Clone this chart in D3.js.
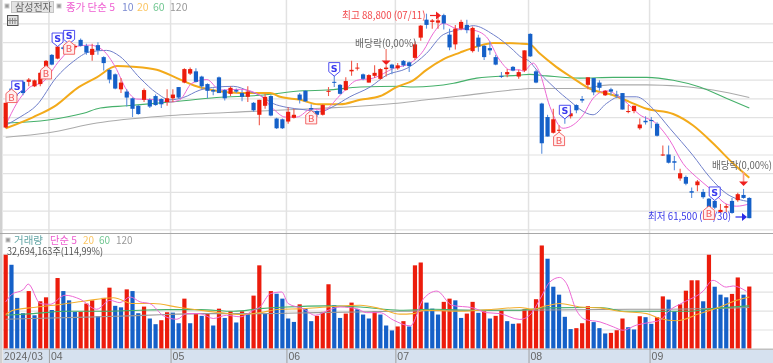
<!DOCTYPE html>
<html><head><meta charset="utf-8">
<script src="https://cdn.jsdelivr.net/npm/d3@7"></script>
<style>html,body{margin:0;padding:0;background:#fff;overflow:hidden}svg{display:block;font-family:"Noto Sans CJK KR","Noto Sans",sans-serif;filter:blur(.35px)}</style>
</head><body><svg id="c" width="773" height="363"></svg>
<script>
const opens=[73600,78800,79400,79700,79700,79100,79400,81700,83300,82800,84300,84300,84300,85300,84500,83300,84600,83000,81300,80700,78700,78400,77500,76500,77300,77300,77800,77400,77000,77500,79000,79600,80800,81100,80400,79400,78600,80300,78600,78100,78600,78200,77700,76900,75300,76500,77800,74800,74700,74400,74900,78000,78500,76200,75800,75300,78400,79700,79300,78600,81100,81500,80700,79600,80500,80100,81400,82000,81500,82500,82300,82900,85600,88000,87700,87600,88600,86000,84700,86800,87300,83800,85600,84500,84200,83000,80500,80700,81700,80400,81200,86100,81100,76800,75000,72900,73200,75100,75100,76600,77400,79300,80200,79600,77900,78700,78000,78200,75700,75800,73500,74500,74600,74100,69900,70000,69100,66800,67000,65100,65900,65000,64100,63800,62300,62900,63800,63900,64600,64200];
const closes=[76900,78400,78200,78200,80000,79900,80900,82500,82000,84400,84100,84900,84500,84500,83600,84100,83900,82200,80000,78800,79600,77600,76100,75400,78600,76400,76600,76700,77500,78000,77600,81400,81400,79700,79100,78500,78400,78200,77500,78900,78400,77700,78400,75900,77300,77700,75200,73500,73500,75700,75300,77300,77100,76000,75300,76600,78500,79600,78100,79800,81300,81600,80100,80600,80900,81400,81600,81500,81900,81900,81800,84700,87200,87300,87900,87900,87500,84300,86800,87700,86600,86900,84400,83000,83900,82000,80400,81000,81200,81000,83900,83100,79600,71500,72400,74700,73300,74900,75500,75900,77200,80300,78300,78900,78500,78400,77900,76000,75800,76500,74000,74300,74500,72500,70000,68900,68900,67500,66100,64900,66400,64300,63000,62900,62600,63100,62200,64700,64200,61500];
const highs=[76900,79000,79600,79900,80200,80000,81000,82600,83400,84500,84500,85200,84700,85500,84800,84800,85000,83100,81400,80800,80200,78700,77600,76600,78800,77500,78000,77500,78700,78700,79000,81500,81600,81500,80500,79500,78800,80400,78700,79100,78800,78600,79100,77000,77300,78100,77900,74900,74800,76300,76100,78200,78600,76700,75900,76700,79000,80800,79400,80300,82500,82200,80800,80700,81900,81500,81900,82100,82200,82600,82400,85100,87300,88800,88100,88800,88800,86800,87300,88000,88000,87100,86000,84600,85100,83300,81000,81400,81800,81300,83900,86200,81300,76900,75300,76100,73900,75700,75900,76700,77800,80300,80200,79900,78600,78900,78500,78200,76600,76500,74800,75100,75000,74300,71200,71200,69800,68100,67200,65600,66600,65400,64200,63900,63400,63400,64200,64900,65400,64300];
const lows=[73500,78200,77800,77900,79100,79000,79100,81500,81900,82700,83900,83900,84000,84400,83300,82500,83300,81200,79500,78700,78200,76400,75000,75300,77000,76200,76500,76200,76500,77000,77400,79500,80600,79600,78800,77500,77900,78200,77200,77800,78200,77100,77000,75700,73900,76100,75100,73400,73400,74100,74800,76800,77000,75500,75000,75200,77800,79000,78000,78500,80500,81200,79900,79600,80200,80000,80400,80700,81300,81700,81000,82600,85200,86800,86800,86800,86700,83900,84000,86600,86200,83600,83700,82600,83300,81900,80200,80300,81100,80100,81000,83000,79500,70100,72400,72800,72800,74100,74800,75500,76900,78700,77900,78500,77800,77900,77500,76000,75500,75500,73300,74000,73500,72400,69800,68800,67900,66500,65900,64200,65100,64100,62800,62700,62200,62300,62100,63700,64100,61500];
const volumes=[49.5,44.2,26.7,18.6,30.3,17.5,24.9,27.0,20.3,37.2,30.3,25.4,19.3,19.3,23.7,25.4,17.0,26.7,32.1,22.5,21.7,31.2,30.3,18.6,22.1,15.8,12.8,14.9,19.1,18.9,13.3,26.3,13.3,18.6,17.2,18.6,12.1,21.0,16.1,19.6,13.7,19.6,18.6,27.9,43.9,18.6,30.3,28.9,26.3,15.8,14.0,23.3,21.0,14.4,17.2,19.3,33.9,22.8,16.1,18.4,24.2,20.7,17.9,15.8,19.6,17.9,12.1,9.5,11.6,14.4,11.6,43.9,45.4,24.2,21.0,17.9,24.6,26.3,25.4,16.1,18.4,24.6,18.8,19.6,15.8,17.2,20.2,14.4,13.0,13.2,20.7,20.7,26.0,54.4,47.4,32.6,28.4,16.7,10.2,10.7,13.3,22.3,13.9,10.7,7.9,8.2,9.6,15.8,11.2,10.0,17.0,16.5,13.0,16.5,27.5,25.8,19.6,23.3,30.5,36.0,36.0,24.9,49.5,32.6,28.4,27.0,28.8,37.5,28.4,32.7];
const volumeSide="RBBBRBRRBRBBBRRRBRRBBRBBRBBRRBBRBRBRBRBRBRBRRBRBBBBRBBRRRBBRRBBBRBBBRRBRRBBBRRBBRRBRBRRBBRRRRRBBBBBRRRBBBRRRBBRBBRRBBRRRRBRBBBRRBR";
const ma5=[[0,73900],[1.9,76800],[4.2,79000],[6.5,79700],[9.4,82600],[12,84400],[14.6,84600],[16.9,83900],[19,81700],[21,78600],[22.7,77400],[26.2,77300],[28.5,77000],[30.2,77300],[32.3,79500],[34.9,80000],[37.2,78600],[40.7,78700],[44.1,77900],[46.4,76100],[48.5,75000],[50.5,75000],[53.1,76100],[55.1,75900],[58,77900],[60.9,79900],[63.8,80200],[67.3,81500],[70.2,82200],[72.5,83900],[74.2,86200],[75.9,87500],[78.2,86800],[81.1,86600],[83.4,85700],[85.7,82600],[87.5,81300],[89.2,81300],[89.8,81100],[91.5,82200],[92.6,81000],[94.4,76400],[96.7,73500],[100.2,75300],[101.9,77500],[104.2,78500],[107.1,77300],[110,75300],[112.9,74100],[115.2,71900],[117.5,68800],[119.8,67000],[122.1,65500],[125,63400],[126.8,63100],[129,63400]];
const ma10=[[0,73900],[2.5,75000],[5.4,76600],[8.8,80300],[11.7,82400],[14.6,83700],[17.5,83900],[19.8,83100],[23.3,80200],[26.2,78200],[28.5,77300],[30.8,77600],[33.7,78600],[36.6,79000],[39.5,79100],[42.4,78400],[44.1,77900],[46.4,76800],[48.7,76300],[51.6,76000],[54.5,75700],[56.8,76400],[59.7,77700],[63.2,79000],[66.1,80600],[69.6,81500],[73,83500],[75.9,86000],[79.4,86800],[81.1,87200],[84.6,86000],[88.1,83900],[89.2,83100],[90.9,82400],[92.1,81300],[94.4,79500],[97.3,77500],[101.9,75300],[104.2,76800],[106.5,77700],[109.4,77700],[112.3,76100],[115.2,73500],[119.2,69900],[122.1,67000],[125,64800],[129,63700]];
const ma20=[[0,73500],[4.8,75000],[8.8,76600],[12.3,78800],[15.8,80300],[19.3,81800],[22.1,81700],[26.2,81300],[29.7,80200],[33.1,79100],[36.6,78500],[40.7,78200],[44.1,78200],[45.9,78200],[47.6,77700],[51.1,77300],[54.2,76700],[58,76700],[61.5,77300],[65,77800],[67.8,79000],[70.7,79900],[73,81300],[75.9,82700],[78.8,83600],[81.7,84400],[84.6,84900],[89.2,84800],[90.9,84700],[92.6,83500],[95.5,81700],[98.4,80200],[101.3,78800],[105.4,77900],[108.3,77000],[111.2,76100],[115.8,75400],[119.2,73900],[122.7,71500],[126.2,68800],[129,66900]];
const ma60=[[0,74200],[7.4,74600],[13.5,75500],[16.4,76200],[21,76500],[28.6,77000],[36.6,77600],[44.1,77900],[51.6,78500],[55.7,78600],[61.5,79000],[68.4,79100],[70.7,79000],[77.7,79500],[81.7,80200],[89.2,80600],[90.9,80700],[93.8,80500],[99.6,80200],[105.4,80300],[111.2,80300],[115.8,79900],[120.4,79000],[125,77500],[129,76200]];
const ma120=[[0,72300],[7.4,72900],[15.8,74200],[28.6,75200],[44.1,75800],[67.3,76800],[73,77300],[78.8,77800],[89.2,78700],[90.9,78800],[99.6,78800],[104.8,79300],[111.2,79300],[117,79100],[122.7,78600],[129,77600]];
const vol5=[[0,24.6],[1,28.4],[3.1,31.2],[3.9,34],[6,23.7],[7.7,23.3],[10.3,28.1],[12.9,26],[15.8,20.7],[18.1,25.4],[19.8,24.2],[21.6,27.2],[23.3,24.6],[25,23.7],[27.4,17.2],[29.7,15.4],[31.4,18.4],[33.7,18.4],[36,15.8],[38.3,17.5],[40.7,16.7],[43,20.2],[44.1,21.9],[45.9,28.9],[47.9,29.8],[49,23.7],[51.6,21],[53.7,17.5],[56,20.2],[58,21.9],[60.9,21],[62.6,18.9],[64.9,18.9],[67.3,14.9],[70.2,11.9],[72.5,26.3],[74.8,30.3],[77.4,22.8],[81.1,21.4],[83.4,18.9],[85.7,18.4],[89.2,15.3],[90.9,17.5],[92.9,27.2],[94.4,35.1],[96.1,37.5],[97.3,34.2],[99,20.2],[100.5,15.3],[103.1,14],[105.4,11.4],[107.1,9.6],[109.4,12.3],[111.7,13.7],[113.5,14.9],[115.2,20.2],[117.5,24.2],[121,30.3],[122.7,36],[125,32.4],[126.2,33],[128.5,30.2]];
const vol20=[[0,17.9],[1.3,20.2],[4.8,21.6],[9.4,23.2],[13.5,24.9],[18.7,26.8],[22.1,23.7],[25.6,23.7],[30.2,21.6],[33.7,20.2],[37.2,18.9],[40.7,17.9],[44.1,18.9],[47.6,20.7],[51.6,21],[55.7,21.9],[61.5,22.8],[65,21],[68.4,18.1],[70.7,18.4],[72.5,20.2],[78.8,19.6],[84.6,20.7],[89.2,21.6],[91.5,20.7],[93.8,22.5],[96.1,23.7],[99.6,21.9],[103.1,21.4],[106.5,19.6],[111.2,18.4],[113.5,15.8],[116.4,14.6],[120.4,18.4],[123.9,21.9],[126.8,25.4],[129,27.2]];
const vol60=[[0,17.5],[4.8,18.4],[10.6,19.6],[16.4,19.6],[23.3,20.2],[27.9,20.5],[33.7,20.5],[39.5,19.6],[44.1,21],[48.7,21.9],[55.7,22.5],[61.5,21.9],[68.4,20.2],[74.2,20.7],[81.1,20.2],[89.2,20.2],[93.8,21.4],[103.1,21.6],[107.7,19.6],[113.5,19.6],[118.1,19.6],[122.7,21],[129,22.5]];
const vol120=[[0,15.4],[7.7,16.1],[16.4,16.7],[27.9,17.9],[33.7,18.4],[44.1,18.4],[53.8,18.9],[67.3,19.6],[78.8,20.2],[89.2,20.2],[108.3,20.7],[113.5,20.7],[129,21.6]];
const monthTicks=[7.5,28.6,48.7,67.6,90.7,111.7];
const monthLabels=["04","05","06","07","08","09"];
const sellSignals=[[2,78950],[9,85350],[11,85700],[57,81400],[97,75700],[123,64800]];
const buySignals=[[1,77800],[7,80950],[11,84250],[53,74950],[96,72050],[122,62200]];

const RED="#ec1c0c",BLUE="#1560c8";
const W=773,H=363;
const x=d3.scaleLinear([0,129],[5.7,749.3]);
const y=d3.scaleLinear([60000,87500],[229.4,23.4]);
const yV=d3.scaleLinear([0,50],[348.4,253.8]);
const svg=d3.select("#c");
const gridCol="#e2e2e2";

const priceAxis=d3.axisRight(y).tickValues(d3.range(60000,87501,2500)).tickSize(W-3).tickFormat("");
svg.append("g").attr("transform","translate(3,0)").call(priceAxis)
  .call(g=>{g.select(".domain").remove();g.selectAll("line").attr("stroke",gridCol).attr("stroke-width",1.2);});
const volAxis=d3.axisRight(yV).tickValues([10,20,30,40,50]).tickSize(W-3).tickFormat("");
svg.append("g").attr("transform","translate(3,0)").call(volAxis)
  .call(g=>{g.select(".domain").remove();g.selectAll("line").attr("stroke",gridCol).attr("stroke-width",1.2);});
svg.append("g").selectAll("line").data(monthTicks).join("line")
  .attr("x1",d=>x(d)).attr("x2",d=>x(d)).attr("y1",0).attr("y2",349).attr("stroke",gridCol).attr("stroke-width",1.5);

svg.append("rect").attr("x",0).attr("y",0).attr("width",2.5).attr("height",H).attr("fill","#d0d0d0");
svg.append("line").attr("x1",0).attr("x2",W).attr("y1",233.5).attr("y2",233.5).attr("stroke","#a8a8a8").attr("stroke-width",1.2);

svg.append("rect").attr("x",3).attr("y",349).attr("width",W-3).attr("height",14).attr("fill","#d6e1ef");
svg.append("line").attr("x1",3).attr("x2",W).attr("y1",349.3).attr("y2",349.3).attr("stroke","#c0c0c0").attr("stroke-width",1.4);
const dateAxis=d3.axisBottom(x).tickValues(monthTicks).tickSize(14).tickFormat((d,i)=>monthLabels[i]);
svg.append("g").attr("transform","translate(0,349)").call(dateAxis)
  .call(g=>{g.select(".domain").remove();g.selectAll("line").attr("stroke","#a0a0a0").attr("stroke-width",1);
    g.selectAll("text").attr("text-anchor","start").attr("x",1.5).attr("y",2).attr("dy","0.9em").attr("fill","#666").attr("font-size",10.5);});
svg.append("text").attr("x",4).attr("y",360).attr("font-size",10.5).attr("fill","#666").text("2024/03");

const line=sc=>d3.line().x(d=>x(d[0])).y(d=>sc(d[1])).curve(d3.curveMonotoneX);
const drawMA=(sc,arr,c,w)=>svg.append("path").attr("d",line(sc)(arr)).attr("fill","none").attr("stroke",c).attr("stroke-width",w);
drawMA(y,ma120,"#ababab",1.1);
drawMA(y,ma60,"#45b06a",1.1);
drawMA(y,ma20,"#f3aa1a",2);
drawMA(y,ma10,"#6f7fca",1);
drawMA(y,ma5,"#ec68d4",1);

const n=opens.length,idx=d3.range(n);
const up=i=>closes[i]>=opens[i];
svg.append("g").selectAll("line").data(idx).join("line")
  .attr("x1",x).attr("x2",x).attr("y1",i=>y(highs[i])).attr("y2",i=>y(lows[i]))
  .attr("stroke",i=>up(i)?"#f0584a":"#5b8fdc").attr("stroke-width",1.1);
svg.append("g").selectAll("rect").data(idx).join("rect")
  .attr("x",i=>x(i)-2.1).attr("width",4.2)
  .attr("y",i=>y(Math.max(opens[i],closes[i])))
  .attr("height",i=>Math.max(1,Math.abs(y(opens[i])-y(closes[i]))))
  .attr("fill",i=>up(i)?RED:BLUE);

svg.append("g").selectAll("rect").data(idx).join("rect")
  .attr("x",i=>x(i)-2.1).attr("width",4.2)
  .attr("y",i=>yV(volumes[i])).attr("height",i=>yV(0)-yV(volumes[i]))
  .attr("fill",i=>volumeSide[i]==="R"?RED:BLUE);
drawMA(yV,vol120,"#9a9a9a",1.1);
drawMA(yV,vol60,"#45b06a",1.1);
drawMA(yV,vol20,"#f3b030",1.1);
drawMA(yV,vol5,"#ec68d4",1);

const txt=(px,py,s,c,fs,len)=>{const t=svg.append("text").attr("x",px).attr("y",py).attr("font-size",fs||10.5).attr("fill",c).text(s);
  if(len)t.attr("textLength",len).attr("lengthAdjust","spacingAndGlyphs");return t;};
txt(342,19,"최고 88,800 (07/11)","#f2474a",10.5,83.5);
txt(355,47,"배당락(0,00%)","#666",10.5,61.5);
txt(712,169,"배당락(0,00%)","#666",10.5,60);
txt(648,220,"최저 61,500 (09/30)","#3a3ae8",10.5,83);

const arrowH=(x1,x2,py,c)=>{svg.append("line").attr("x1",x1).attr("x2",x2-3).attr("y1",py).attr("y2",py).attr("stroke",c).attr("stroke-width",1.2);
  svg.append("path").attr("d",`M${x2-5},${py-4}L${x2},${py}L${x2-5},${py+4}Z`).attr("fill",c);};
const arrowV=(px,y1,y2,c)=>{svg.append("line").attr("x1",px).attr("x2",px).attr("y1",y1).attr("y2",y2-3).attr("stroke","#f59a90").attr("stroke-width",1.6);
  svg.append("path").attr("d",`M${px-4.5},${y2-4.5}L${px+4.5},${y2-4.5}L${px},${y2}Z`).attr("fill",c);};
arrowH(430,441,15.5,"#f02020");
arrowH(735.5,747,217,"#2a2ae8");
arrowV(x(66),49,65,"#ee2020");
arrowV(x(128),172,186,"#ee2020");

const sig=(arr,c,fill,label,dir,fw)=>{arr.forEach(([i,p])=>{
  const cx=x(i),cy=y(p),g=svg.append("g").attr("transform",`translate(${cx},${cy})`);
  const d=dir>0?"M-5.5,-6.5H5.5V2.5L0,7L-5.5,2.5Z":"M-5.5,6.5H5.5V-2.5L0,-7L-5.5,-2.5Z";
  g.append("path").attr("d",d).attr("fill",fill).attr("stroke",c).attr("stroke-width",.9);
  g.append("text").attr("text-anchor","middle").attr("y",dir>0?2.5:4.5).attr("font-size",9.5).attr("font-weight",fw)
   .attr("font-family","'DejaVu Sans',sans-serif").attr("fill",c).text(label);
});};
sig(sellSignals,"#3a3aee","#fff","S",1,700);
sig(buySignals,"#f25a5a","#fff0f0","B",-1,400);

const sq=(px,py)=>svg.append("rect").attr("x",px).attr("y",py).attr("width",4).attr("height",4).attr("fill","#999").attr("stroke","#ccc");
sq(5,4);sq(57,4);
svg.append("rect").attr("x",11.5).attr("y",1.5).attr("width",42).attr("height",11).attr("fill","#e3e3e3").attr("stroke","#c4c4c4");
txt(15,11,"삼성전자","#666",10);
txt(66,11,"종가 단순 5","#ee5cd0",10,49);
txt(122,11,"10","#7d8cd2",10.5);
txt(137,11,"20","#fbc664",10.5);
txt(153,11,"60","#72c792",10.5);
txt(170,11,"120","#999",10.5);
svg.append("rect").attr("x",7.5).attr("y",15.5).attr("width",10.5).attr("height",10).attr("fill","#e0e0e0").attr("stroke","#555");
[10,12.5,15].forEach(px=>svg.append("line").attr("x1",px).attr("x2",px).attr("y1",18).attr("y2",24).attr("stroke","#888"));
svg.append("line").attr("x1",8).attr("x2",17.5).attr("y1",20.5).attr("y2",20.5).attr("stroke","#888");

sq(6,238);
txt(14,244,"거래량","#63a5a5",10,29);
txt(50,244,"단순 5","#ee5cd0",10,27);
txt(83,244,"20","#fbc664",10);
txt(99,244,"60","#72c792",10);
txt(116,244,"120","#999",10);
txt(7,254.5,"32,694,163주(114,99%)","#555",10,96);
</script></body></html>
